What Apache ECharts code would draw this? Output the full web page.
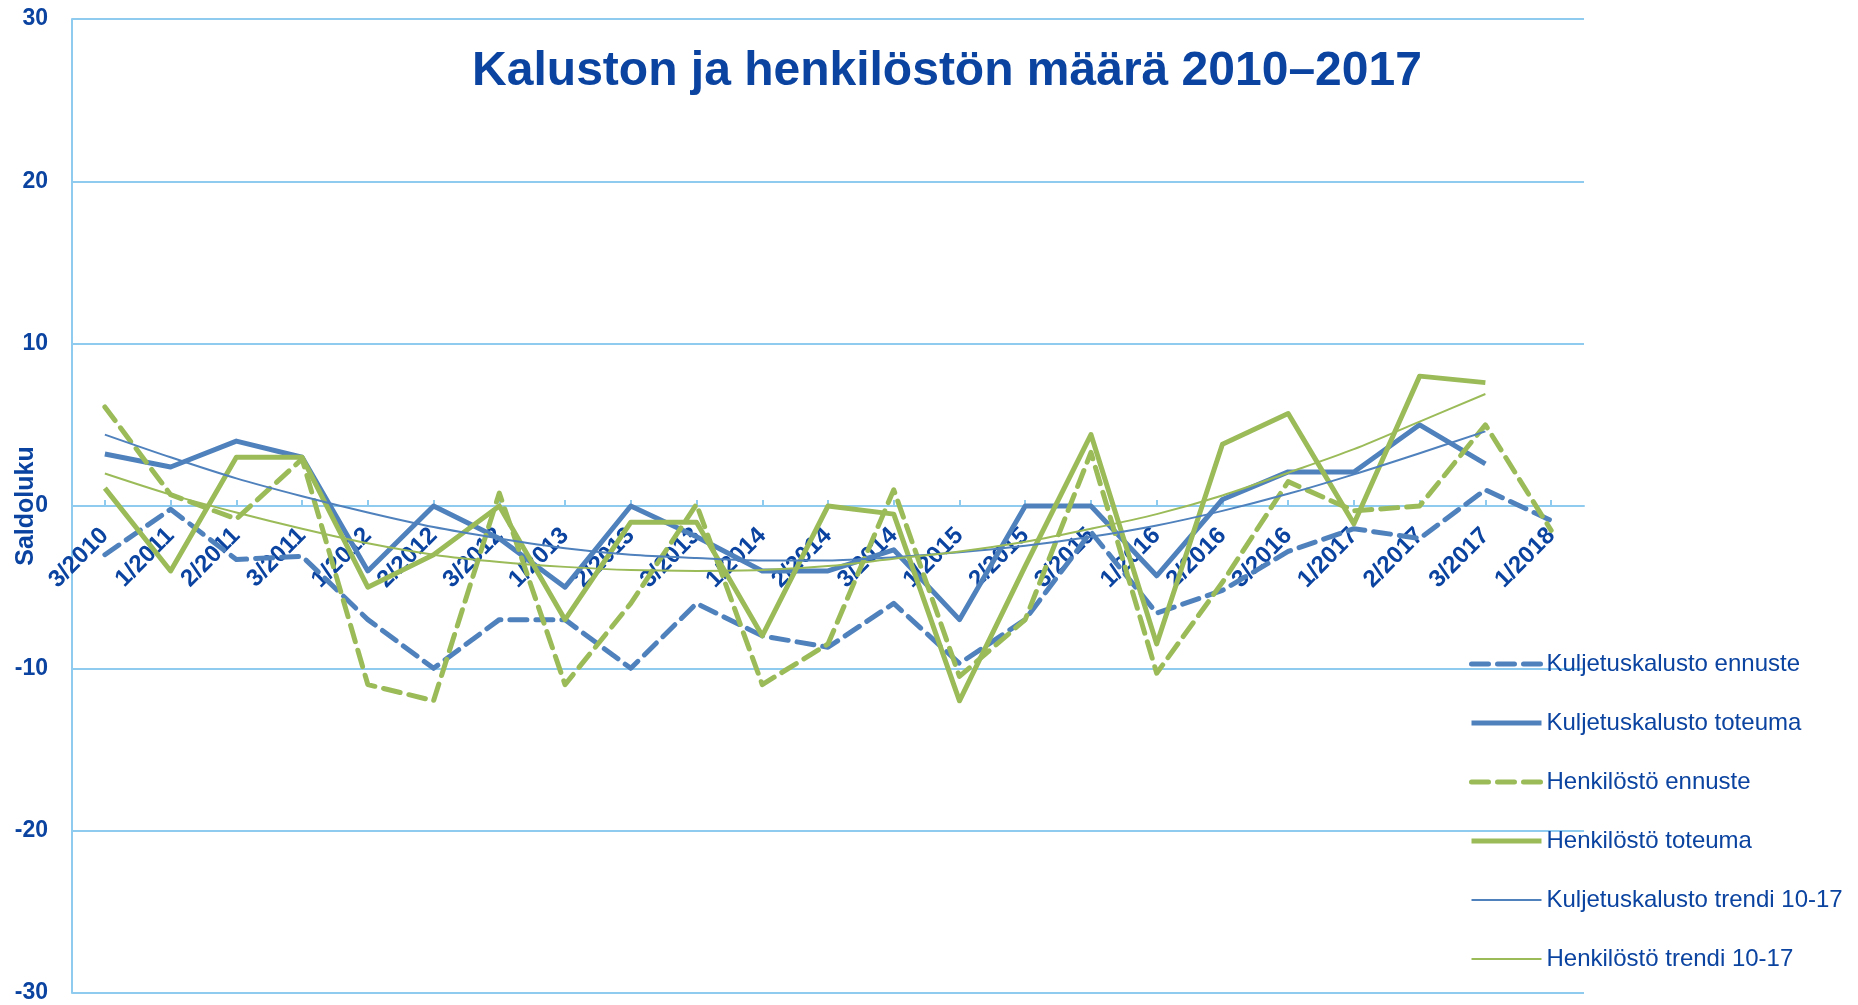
<!DOCTYPE html>
<html>
<head>
<meta charset="utf-8">
<title>Kaluston ja henkilöstön määrä 2010–2017</title>
<script src="https://cdn.jsdelivr.net/npm/echarts@6/dist/echarts.min.js"></script>
<style>
  html, body { margin: 0; padding: 0; background: #fff; }
  #chart { width: 1858px; height: 1005px; }
</style>
</head>
<body>
<div id="chart"></div>
<script>
  // neljännekset 3/2010 ... 1/2018
  var quarters = ['3/2010', '1/2011', '2/2011', '3/2011', '1/2012', '2/2012', '3/2012',
    '1/2013', '2/2013', '3/2013', '1/2014', '2/2014', '3/2014', '1/2015', '2/2015',
    '3/2015', '1/2016', '2/2016', '3/2016', '1/2017', '2/2017', '3/2017', '1/2018']

  var kalustoEnnuste = [-3.0, -0.2, -3.3, -3.1, -7, -10, -7, -7, -10, -6, -8, -8.7,
    -6, -9.7, -7, -1.6, -6.6, -5.2, -2.8, -1.4, -2.0, 1.0, -0.9]
  var kalustoToteuma = [3.2, 2.4, 4, 3, -4, 0, -2, -5, 0, -1.9, -4, -4,
    -2.7, -7, 0, 0, -4.3, 0.4, 2.1, 2.1, 5, 2.6, null]
  var henkilostoEnnuste = [6.1, 0.7, -0.8, 2.9, -11, -12, 0.8, -11, -6, 0.1, -11, -8.5,
    1.0, -10.5, -7, 3.3, -10.3, -4.7, 1.5, -0.3, 0, 5, -1.5]
  var henkilostoToteuma = [1.1, -4, 3, 3, -5, -3, 0, -7, -1, -1, -8, 0,
    -0.5, -12, -3.7, 4.4, -8.5, 3.8, 5.7, -1.1, 8, 7.6, null]
  var kalustoTrendi = [4.4, 3.0, 1.7, 0.6, -0.4, -1.3, -2.0, -2.6, -3.0, -3.2, -3.35, -3.35,
    -3.15, -2.85, -2.45, -1.9, -1.2, -0.3, 0.75, 1.95, 3.25, 4.6, null]
  var henkilostoTrendi = [2.0, 0.7, -0.4, -1.4, -2.3, -3.0, -3.45, -3.75, -3.95, -4.0, -3.95, -3.7,
    -3.25, -2.8, -2.2, -1.4, -0.5, 0.65, 2.05, 3.5, 5.2, 6.9, null]

  var yTicks = [-30, -20, -10, 0, 10, 20, 30]

  var BLUE = '#4f81bd'
  var GREEN = '#9bbb59'
  var TEXT = '#0a43a0'
  var GRID = '#8fcbef'
  var FONT = '"Liberation Sans", Arial, sans-serif'

  // plot area, px
  var GRID_TOP = 19
  var GRID_BOTTOM = 12
  var PLOT_H = 1005 - GRID_TOP - GRID_BOTTOM

  var chart = echarts.init(document.getElementById('chart'))

  function line(name, data, color, width, dashed, smooth) {
    return {
      name: name,
      type: 'line',
      data: data,
      symbol: 'none',
      smooth: smooth ? 0.3 : false,
      lineStyle: {
        color: color,
        width: width,
        type: dashed ? [17, 9] : 'solid',
        cap: dashed ? 'round' : 'butt',
        join: 'round',
      },
      itemStyle: { color: color },
    }
  }

  var series = [
    line('Kuljetuskalusto ennuste', kalustoEnnuste, BLUE, 5, true, false),
    line('Kuljetuskalusto toteuma', kalustoToteuma, BLUE, 5, false, false),
    line('Henkilöstö ennuste', henkilostoEnnuste, GREEN, 5, true, false),
    line('Henkilöstö toteuma', henkilostoToteuma, GREEN, 5, false, false),
    line('Kuljetuskalusto trendi 10-17', kalustoTrendi, BLUE, 2, false, true),
    line('Henkilöstö trendi 10-17', henkilostoTrendi, GREEN, 2, false, true),
  ]

  chart.setOption({
    animation: false,
    title: {
      text: 'Kaluston ja henkilöstön määrä 2010–2017',
      left: 942,
      textAlign: 'center',
      top: 43,
      textStyle: {
        fontFamily: FONT,
        fontSize: 48,
        fontWeight: 'bold',
        color: TEXT,
      },
    },
    legend: {
      orient: 'vertical',
      left: 1469,
      top: 652,
      itemWidth: 70,
      itemHeight: 14,
      itemGap: 35,
      padding: 0,
      itemStyle: { opacity: 0 },
      data: series.map(function (s) {
        return { name: s.name, lineStyle: { width: s.lineStyle.width } }
      }),
      textStyle: {
        fontFamily: FONT,
        fontSize: 24,
        lineHeight: 24,
        color: TEXT,
      },
    },
    grid: {
      left: 72,
      right: 274,
      top: GRID_TOP,
      bottom: GRID_BOTTOM,
      outerBoundsMode: 'none',
      containLabel: false,
    },
    xAxis: {
      type: 'category',
      data: quarters,
      boundaryGap: true,
      // akseli nollatasolle
      offset: -PLOT_H / 2,
      axisLine: { onZero: false, lineStyle: { color: GRID, width: 2 } },
      axisTick: { show: true, inside: true, alignWithLabel: true, length: 6, lineStyle: { color: GRID, width: 2 } },
      axisLabel: {
        rotate: 45,
        margin: 26,
        fontFamily: FONT,
        fontSize: 24,
        fontWeight: 'bold',
        color: TEXT,
      },
      splitLine: { show: false },
      z: 1,
    },
    yAxis: {
      type: 'value',
      min: yTicks[0],
      max: yTicks[yTicks.length - 1],
      interval: 10,
      name: 'Saldoluku',
      nameLocation: 'middle',
      nameGap: 33,
      nameMoveOverlap: false,
      nameTextStyle: {
        fontFamily: FONT,
        fontSize: 25,
        fontWeight: 'bold',
        color: TEXT,
      },
      axisLine: { show: true, lineStyle: { color: GRID, width: 2 } },
      axisTick: { show: false },
      axisLabel: {
        margin: 24,
        fontFamily: FONT,
        fontSize: 23,
        fontWeight: 'bold',
        color: TEXT,
      },
      splitLine: { show: true, lineStyle: { color: GRID, width: 2 } },
    },
    series: series,
  })
</script>
</body>
</html>
